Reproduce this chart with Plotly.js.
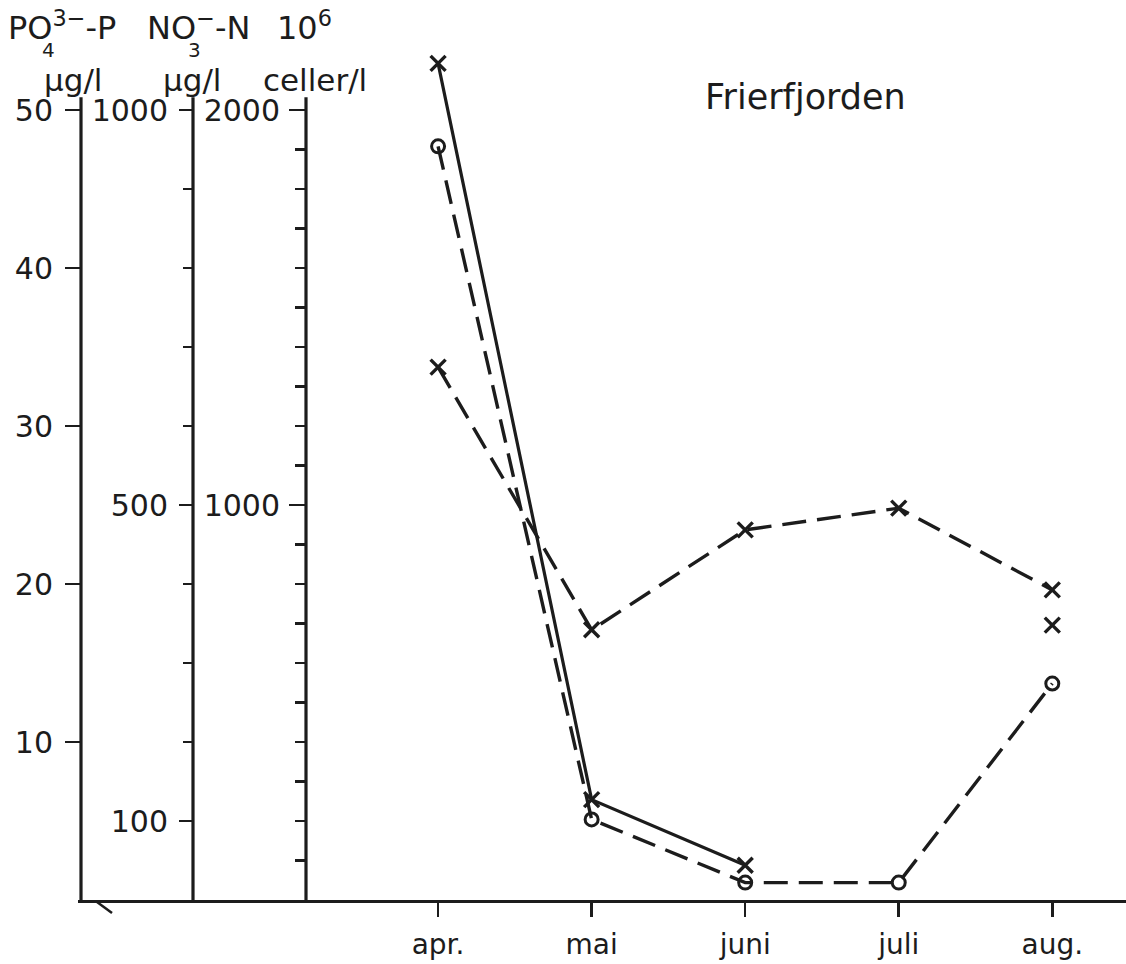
<!DOCTYPE html>
<html>
<head>
<meta charset="utf-8">
<script src="https://cdn.plot.ly/plotly-3.0.1.min.js"></script>
<style>html,body{margin:0;padding:0;background:#fff;}#chart{width:1126px;height:964px;}</style>
</head>
<body>
<div id="chart"></div>
<script>
// ---- data ----
const months = ['apr.', 'mai', 'juni', 'juli', 'aug.'];
// NO3-N, µg/l (solid line, x markers)
const no3N = [1059, 127, 44, null, 348];
// PO4-P, µg/l (dashed line, o markers)
const po4P = [47.7, 5.1, 1.1, 1.1, 13.7];
// 10^6 celler/l (dashed line, x markers)
const cells = [1349, 684, 937, 992, 785];

// tick values / labels
const po4Ticks = [10, 20, 30, 40, 50];
const no3Ticks = [100, 500, 1000];
const no3Minor = [200, 300, 400, 600, 700, 800, 900];
const cellTicks = [1000, 2000];
const cellMinor = [100, 200, 300, 400, 500, 600, 700, 800, 900, 1100, 1200, 1300, 1400, 1500, 1600, 1700, 1800, 1900];

// ---- layout geometry ----
const W = 1126, H = 964;
const L = 78, R = 0, T = 40, B = 64;
const plotW = W - L - R, plotH = H - T - B;
const PX = x => (x - L) / plotW;
const PY = y => (H - B - y) / plotH;
const pxPerPO4 = 15.8;
const po4Max = plotH / pxPerPO4;
const axisTop = 50.8;
const ink = '#1c1c1c';
const FONT = 'DejaVu Sans, sans-serif';

const posPO4 = PX(81), posNO3 = PX(193), posCell = PX(306);

const traces = [
  {
    x: months, y: no3N, yaxis: 'y2', type: 'scatter', mode: 'lines+markers',
    connectgaps: false,
    line: {color: ink, width: 3.2},
    marker: {symbol: 'x-thin', size: 15, line: {color: ink, width: 3.4}, color: ink},
    cliponaxis: false
  },
  {
    x: months, y: po4P, yaxis: 'y', type: 'scatter', mode: 'lines+markers',
    line: {color: ink, width: 3.4, dash: '24px,11px'},
    marker: {symbol: 'circle-open', size: 13, line: {color: ink, width: 3}, color: ink},
    cliponaxis: false
  },
  {
    x: months, y: cells, yaxis: 'y3', type: 'scatter', mode: 'lines+markers',
    line: {color: ink, width: 3.4, dash: '24px,11px'},
    marker: {symbol: 'x-thin', size: 15, line: {color: ink, width: 3.4}, color: ink},
    cliponaxis: false
  }
];

const tickFont = {family: FONT, size: 30, color: ink};
const commonY = {
  anchor: 'free', side: 'left', showgrid: false, zeroline: false, showline: false,
  ticks: 'outside', tickwidth: 2.8, tickcolor: ink, tickfont: tickFont
};

function vline(pos) {
  return {type: 'line', xref: 'paper', yref: 'y', x0: pos, x1: pos, y0: 0, y1: axisTop,
          line: {color: ink, width: 3.2}};
}

const layout = {
  width: W, height: H,
  margin: {l: L, r: R, t: T, b: B},
  paper_bgcolor: '#fff', plot_bgcolor: '#fff',
  showlegend: false,
  xaxis: {
    type: 'category', categoryarray: months, categoryorder: 'array',
    range: [-2.345, 4.48], showgrid: false, zeroline: false,
    showline: true, linecolor: ink, linewidth: 3.2,
    ticks: 'outside', ticklen: 14, tickwidth: 2.6, tickcolor: ink,
    tickfont: {family: FONT, size: 28, color: ink}, ticklabelstandoff: 3
  },
  yaxis: Object.assign({}, commonY, {
    range: [0, po4Max], position: posPO4,
    tickmode: 'array', tickvals: po4Ticks, ticktext: po4Ticks.map(String),
    ticklen: 16, ticklabelstandoff: 6
  }),
  yaxis2: Object.assign({}, commonY, {
    overlaying: 'y', range: [0, po4Max * 20], position: posNO3,
    tickmode: 'array', tickvals: no3Ticks, ticktext: no3Ticks.map(String),
    ticklen: 14, ticklabelstandoff: 5,
    minor: {tickmode: 'array', tickvals: no3Minor, ticks: 'outside', ticklen: 10, tickwidth: 2.6, tickcolor: ink, showgrid: false}
  }),
  yaxis3: Object.assign({}, commonY, {
    overlaying: 'y', range: [0, po4Max * 40], position: posCell,
    tickmode: 'array', tickvals: cellTicks, ticktext: cellTicks.map(String),
    ticklen: 17, ticklabelstandoff: 3,
    minor: {tickmode: 'array', tickvals: cellMinor, ticks: 'outside', ticklen: 11, tickwidth: 2.6, tickcolor: ink, showgrid: false}
  }),
  shapes: [
    vline(posPO4), vline(posNO3), vline(posCell),
    {type: 'line', xref: 'paper', yref: 'paper', x0: PX(97), y0: PY(902), x1: PX(112), y1: PY(913),
     line: {color: ink, width: 2.5}}
  ],
  annotations: [
    {text: 'Frierfjorden', xref: 'paper', yref: 'paper', x: PX(805), y: PY(97), xanchor: 'center', yanchor: 'middle',
     showarrow: false, font: {family: FONT, size: 35, color: ink}},
    {text: 'PO<sup>3−</sup>-P', xref: 'paper', yref: 'paper', x: PX(6), y: PY(26), xanchor: 'left', yanchor: 'middle',
     showarrow: false, font: {family: FONT, size: 32, color: ink}},
    {text: '4', xref: 'paper', yref: 'paper', x: PX(48), y: PY(50), xanchor: 'center', yanchor: 'middle',
     showarrow: false, font: {family: FONT, size: 20, color: ink}},
    {text: 'NO<sup>−</sup>-N', xref: 'paper', yref: 'paper', x: PX(145), y: PY(26), xanchor: 'left', yanchor: 'middle',
     showarrow: false, font: {family: FONT, size: 32, color: ink}},
    {text: '3', xref: 'paper', yref: 'paper', x: PX(194), y: PY(50), xanchor: 'center', yanchor: 'middle',
     showarrow: false, font: {family: FONT, size: 20, color: ink}},
    {text: '10<sup>6</sup>', xref: 'paper', yref: 'paper', x: PX(275), y: PY(26), xanchor: 'left', yanchor: 'middle',
     showarrow: false, font: {family: FONT, size: 32, color: ink}},
    {text: 'µg/l', xref: 'paper', yref: 'paper', x: PX(73), y: PY(80), xanchor: 'center', yanchor: 'middle',
     showarrow: false, font: {family: FONT, size: 31, color: ink}},
    {text: 'µg/l', xref: 'paper', yref: 'paper', x: PX(192), y: PY(80), xanchor: 'center', yanchor: 'middle',
     showarrow: false, font: {family: FONT, size: 31, color: ink}},
    {text: 'celler/l', xref: 'paper', yref: 'paper', x: PX(315), y: PY(80), xanchor: 'center', yanchor: 'middle',
     showarrow: false, font: {family: FONT, size: 31, color: ink}}
  ]
};

Plotly.newPlot('chart', traces, layout, {displayModeBar: false, staticPlot: true});
</script>
</body>
</html>
